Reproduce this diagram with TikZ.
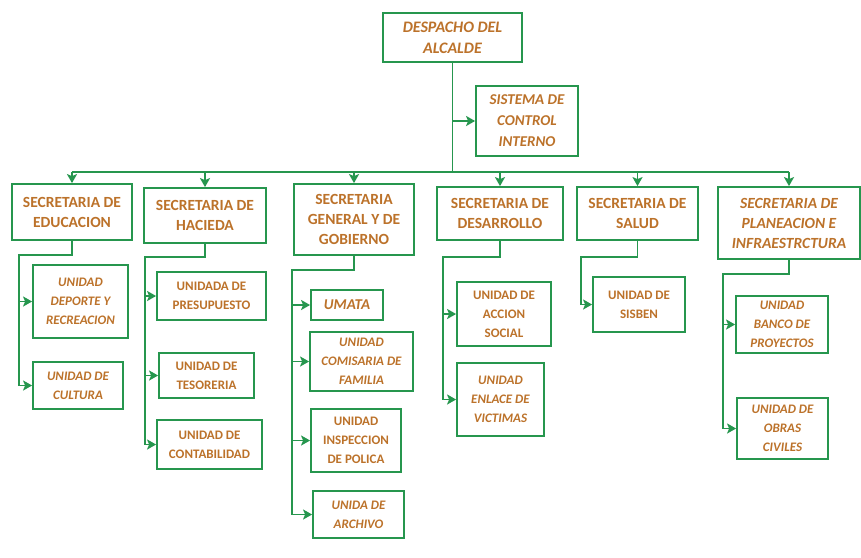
\documentclass[tikz,border=0pt]{standalone}
\usepackage{fontspec}
\setmainfont{Carlito}
\usetikzlibrary{arrows.meta,positioning}
\definecolor{orggreen}{RGB}{38,150,78}
\definecolor{orgbrown}{RGB}{188,114,42}

\tikzset{
  box/.style={draw=orggreen,line width=1.8pt,fill=white,align=center,text=orgbrown,inner sep=0pt},
  secbox/.style={box,font=\fontsize{15.5}{20}\selectfont\bfseries},
  secit/.style={box,font=\fontsize{15.5}{20}\selectfont\bfseries\itshape},
  unitbox/.style={box,font=\fontsize{13}{19}\selectfont\bfseries},
  unitit/.style={box,font=\fontsize{13}{19}\selectfont\bfseries\itshape},
  link/.style={orggreen,line width=1.8pt},
  arr/.style={link,-{Stealth[length=9pt,width=10pt,inset=2pt]}}
}

\begin{document}
\begin{tikzpicture}[x=1pt,y=-1pt]
  \path[fill=white] (0,0) rectangle (861,557);
  % top
  \node[box,font=\fontsize{16}{21}\selectfont\bfseries\itshape,minimum width=139,minimum height=49] (desp) at (452.5,37.5) {DESPACHO DEL\\ALCALDE};
  \node[box,font=\fontsize{15}{21}\selectfont\bfseries\itshape,minimum width=102,minimum height=70] (sci) at (527,121) {SISTEMA DE\\CONTROL\\INTERNO};
  \coordinate (bus) at (452.5,172);
  % secretarias
  \node[secbox,minimum width=120,minimum height=56] (edu) at (72,212) {SECRETARIA DE\\EDUCACION};
  \node[secbox,minimum width=122,minimum height=55] (hac) at (205,215.5) {SECRETARIA DE\\HACIEDA};
  \node[secbox,minimum width=120,minimum height=71] (gen) at (354,219.5) {SECRETARIA\\GENERAL Y DE\\GOBIERNO};
  \node[secbox,minimum width=126,minimum height=53] (des) at (500,213.5) {SECRETARIA DE\\DESARROLLO};
  \node[secbox,minimum width=121,minimum height=53] (sal) at (637.5,213.5) {SECRETARIA DE\\SALUD};
  \node[secit,minimum width=142,minimum height=72] (plan) at (789,223) {SECRETARIA DE\\PLANEACION E\\INFRAESTRCTURA};
  % unidades
  \node[unitit,minimum width=95,minimum height=73] (dep) at (80.5,301.5) {UNIDAD\\DEPORTE Y\\RECREACION};
  \node[unitit,minimum width=90,minimum height=47] (cult) at (78,385.5) {UNIDAD DE\\CULTURA};
  \node[unitbox,minimum width=109,minimum height=48] (pres) at (211.5,296) {UNIDADA DE\\PRESUPUESTO};
  \node[unitbox,minimum width=95,minimum height=45] (teso) at (206.5,375.5) {UNIDAD DE\\TESORERIA};
  \node[unitbox,minimum width=105,minimum height=49] (cont) at (209.5,444.5) {UNIDAD DE\\CONTABILIDAD};
  \node[box,font=\fontsize{15}{19}\selectfont\bfseries\itshape,minimum width=72,minimum height=30] (umata) at (347,305) {UMATA};
  \node[unitit,minimum width=103,minimum height=59] (comi) at (361.5,361.5) {UNIDAD\\COMISARIA DE\\FAMILIA};
  \node[unitbox,minimum width=90,minimum height=63] (insp) at (356,440.5) {UNIDAD\\INSPECCION\\DE POLICA};
  \node[unitit,minimum width=91,minimum height=47] (arch) at (358.5,514.5) {UNIDA DE\\ARCHIVO};
  \node[unitbox,minimum width=94,minimum height=64] (acc) at (504,314) {UNIDAD DE\\ACCION\\SOCIAL};
  \node[unitit,minimum width=87,minimum height=73] (enl) at (500.5,399.5) {UNIDAD\\ENLACE DE\\VICTIMAS};
  \node[unitbox,minimum width=92,minimum height=55] (sis) at (639,304.5) {UNIDAD DE\\SISBEN};
  \node[unitit,minimum width=92,minimum height=57] (banco) at (782,324.5) {UNIDAD\\BANCO DE\\PROYECTOS};
  \node[unitit,minimum width=91,minimum height=61] (obras) at (782.5,428.5) {UNIDAD DE\\OBRAS\\CIVILES};

  % conexiones
  \draw[link] (desp) -- (bus);
  \draw[arr] (desp.south |- sci.west) -- (sci.west);
  \draw[link] (bus -| edu.north) -- (bus -| plan.north);
  \foreach \s in {edu,hac,gen,des,sal,plan}
    \draw[arr] (bus -| \s.north) -- (\s.north);

  \coordinate (spedu) at (19,255);
  \coordinate (sphac) at (145,257);
  \coordinate (spgen) at (292,270);
  \coordinate (spdes) at (443,257);
  \coordinate (spsal) at (581,257);
  \coordinate (spplan) at (723,274);
  \draw[link] (edu.south) |- (spedu) -- (spedu |- cult.west);
  \draw[link] (hac.south) |- (sphac) -- (sphac |- cont.west);
  \draw[link] (gen.south) |- (spgen) -- (spgen |- arch.west);
  \draw[link] (des.south) |- (spdes) -- (spdes |- enl.west);
  \draw[link] (sal.south) |- (spsal) -- (spsal |- sis.west);
  \draw[link] (plan.south) |- (spplan) -- (spplan |- obras.west);
  \foreach \u in {dep,cult} \draw[arr] (spedu |- \u.west) -- (\u.west);
  \foreach \u in {pres,teso,cont} \draw[arr] (sphac |- \u.west) -- (\u.west);
  \foreach \u in {umata,comi,insp,arch} \draw[arr] (spgen |- \u.west) -- (\u.west);
  \foreach \u in {acc,enl} \draw[arr] (spdes |- \u.west) -- (\u.west);
  \draw[arr] (spsal |- sis.west) -- (sis.west);
  \foreach \u in {banco,obras} \draw[arr] (spplan |- \u.west) -- (\u.west);
\end{tikzpicture}
\end{document}
